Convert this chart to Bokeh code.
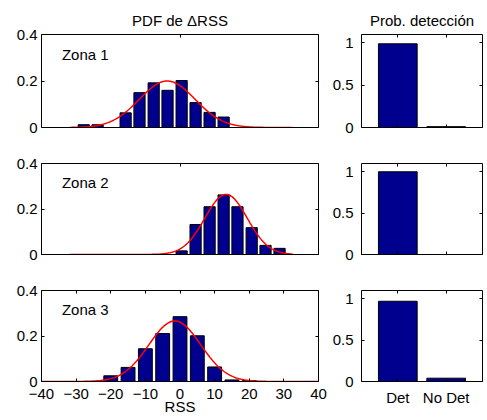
import numpy as np
from bokeh.plotting import figure
from bokeh.models import Range1d, FixedTicker, LinearAxis
from bokeh.layouts import column, row
from bokeh.embed import file_html
from bokeh.resources import INLINE

FONT = "Liberation Sans"
FS = "15px"

# ---------------- data ----------------
zone_names = ["Zona 1", "Zona 2", "Zona 3"]
z1_centers = [-27.8, -23.8, -15.7, -11.7, -7.6, -3.6, 0.47, 4.5, 8.55, 12.6]
z1_pdf = [0.012, 0.012, 0.063, 0.150, 0.192, 0.160, 0.202, 0.107, 0.065, 0.045]
z2_centers = [0.47, 4.5, 8.55, 12.6, 16.6, 20.7, 24.7, 28.75]
z2_pdf = [0.016, 0.132, 0.210, 0.262, 0.210, 0.118, 0.040, 0.027]
z3_centers = [-20, -15, -10, -5, 0, 5, 10, 15, 20]
z3_pdf = [0.025, 0.062, 0.144, 0.211, 0.285, 0.201, 0.064, 0.007, 0.004]
bin_widths = [4.04, 4.04, 5.0]
fit_mu = [-3.7, 13.3, -1.5]
fit_sigma = [8.06, 6.1, 7.5]
fit_span = [(-31.8, 32.5), (-31.8, 32.5), (-40.0, 40.0)]
det_cats = ["Det", "No Det"]
det_prob = [[0.99, 0.01], [1.0, 0.0], [0.97, 0.04]]
pdf_yticks = [0, 0.2, 0.4]
rss_xticks = [-40, -30, -20, -10, 0, 10, 20, 30, 40]
det_yticks = [0, 0.5, 1]

centers_all = [z1_centers, z2_centers, z3_centers]
pdf_all = [z1_pdf, z2_pdf, z3_pdf]

BAR = "#00008F"


def fmt_num(v):
    return ("%g" % v).replace("-", "\u2212")


def style_axis(ax, ticks, labels=None, show=True, standoff=4):
    ax.ticker = FixedTicker(ticks=ticks)
    ax.axis_line_color = "black"
    ax.axis_line_width = 1
    ax.major_tick_in = 3
    ax.major_tick_out = 0
    ax.major_tick_line_color = "black"
    ax.minor_tick_line_color = None
    if show:
        ax.major_label_text_font = FONT
        ax.major_label_text_font_size = FS
        ax.major_label_text_color = "black"
        ax.major_label_standoff = standoff
        if labels is not None:
            ax.major_label_overrides = {t: l for t, l in zip(ticks, labels)}
    else:
        ax.major_label_text_font_size = "1px"
        ax.major_label_text_color = None
        ax.major_label_standoff = 0
        ax.major_label_overrides = {t: "" for t in ticks}


def add_box_axes(p, xt, yt, xlabels, ylabels, show_x, y_standoff, x_standoff):
    left = LinearAxis()
    style_axis(left, yt, ylabels, True, y_standoff)
    p.add_layout(left, "left")
    right = LinearAxis()
    style_axis(right, yt, None, False)
    p.add_layout(right, "right")
    below = LinearAxis()
    style_axis(below, xt, xlabels, show_x, x_standoff)
    p.add_layout(below, "below")
    above = LinearAxis()
    style_axis(above, xt, None, False)
    p.add_layout(above, "above")
    return below


def set_title(p, text, offset=0):
    p.title.text = text
    p.title.align = "center"
    p.title.text_font = FONT
    p.title.text_font_size = FS
    p.title.text_font_style = "normal"
    p.title.text_color = "black"
    p.title.standoff = 11
    p.title.offset = offset


figs = []
for i in range(3):
    top_b = 34 if i == 0 else 18
    bot_b = 18 if i < 2 else 37
    fh = 93 if i == 0 else 91

    # ---- left: PDF histogram ----
    pl = figure(frame_width=277, frame_height=fh,
                min_border_left=41, min_border_right=11,
                min_border_top=top_b, min_border_bottom=bot_b,
                x_range=Range1d(-40, 40), y_range=Range1d(0, 0.4),
                x_axis_location=None, y_axis_location=None,
                output_backend="svg", toolbar_location=None)
    pl.grid.visible = False
    pl.outline_line_color = None
    if i == 2:
        below = add_box_axes(pl, rss_xticks, pdf_yticks, [fmt_num(v) for v in rss_xticks],
                             [fmt_num(v) for v in pdf_yticks], True, 4, 7)
        below.axis_label = "RSS"
        below.axis_label_text_font = FONT
        below.axis_label_text_font_size = FS
        below.axis_label_text_font_style = "normal"
        below.axis_label_text_color = "black"
        below.axis_label_standoff = -4
    else:
        add_box_axes(pl, [0], pdf_yticks, None,
                     [fmt_num(v) for v in pdf_yticks], False, 4, 0)

    bw = bin_widths[i]
    pl.vbar(x=centers_all[i], top=pdf_all[i], bottom=0, width=0.8 * bw,
            fill_color=BAR, line_color="black", line_width=1)
    xs = np.linspace(fit_span[i][0], fit_span[i][1], 400)
    ys = bw * np.exp(-0.5 * ((xs - fit_mu[i]) / fit_sigma[i]) ** 2) / (fit_sigma[i] * np.sqrt(2 * np.pi))
    pl.line(xs, ys, line_color="#FF0000", line_width=1.5)

    pl.text(x=[-34.1], y=[0.315], text=[zone_names[i]], text_align="left",
            text_baseline="middle", text_font={"value": FONT}, text_font_size=FS,
            text_color="black")
    if i == 0:
        set_title(pl, "PDF de \u0394RSS")

    # ---- right: detection probability ----
    pr = figure(frame_width=121, frame_height=fh,
                min_border_left=30, min_border_right=5,
                min_border_top=top_b, min_border_bottom=bot_b,
                x_range=Range1d(0.25, 2.75), y_range=Range1d(0, 1.1),
                x_axis_location=None, y_axis_location=None,
                output_backend="svg", toolbar_location=None)
    pr.grid.visible = False
    pr.outline_line_color = None
    if i == 2:
        add_box_axes(pr, [1, 2], det_yticks, det_cats,
                     [fmt_num(v) for v in det_yticks], True, 8, 7)
    else:
        add_box_axes(pr, [1, 2], det_yticks, None,
                     [fmt_num(v) for v in det_yticks], False, 8, 0)
    pr.vbar(x=[1, 2], top=det_prob[i], bottom=0, width=0.8,
            fill_color=BAR, line_color="black", line_width=1)
    if i == 0:
        set_title(pr, "Prob. detecci\u00f3n", 0)
    figs.append(row(pl, pr, spacing=0))

layout = column(*figs, spacing=0)

with open("out.html", "w") as f:
    f.write(file_html(layout, INLINE))
